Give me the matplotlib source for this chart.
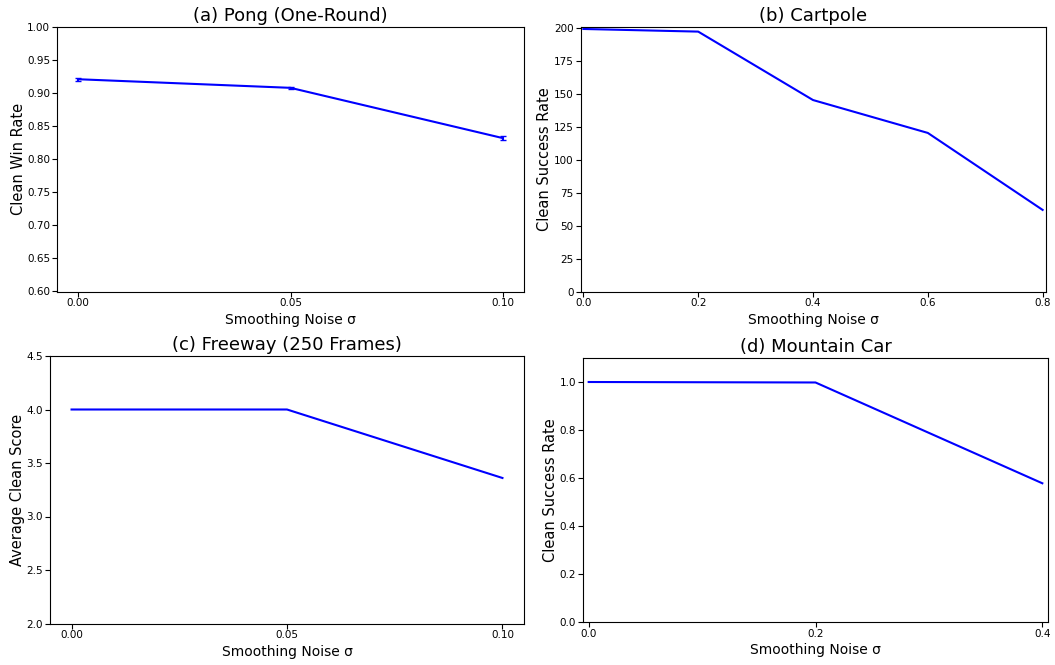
import matplotlib
matplotlib.use("Agg")
import matplotlib.pyplot as plt

# (a) Pong (One-Round)
pong_sigma = [0.00, 0.05, 0.10]
pong_win = [0.921, 0.908, 0.832]
pong_err = [0.002, 0.002, 0.003]

# (b) Cartpole
cart_sigma = [0.0, 0.2, 0.4, 0.6, 0.8]
cart_success = [199.5, 197.5, 145.5, 120.5, 62.0]

# (c) Freeway (250 Frames)
free_sigma = [0.00, 0.05, 0.10]
free_score = [4.0, 4.0, 3.36]

# (d) Mountain Car
mc_sigma = [0.0, 0.2, 0.4]
mc_success = [1.0, 0.998, 0.578]

W, H = 1055, 665
fig = plt.figure(figsize=(W / 100, H / 100), dpi=100)


def box(l, t, r, b):
    return [l / W, 1 - b / H, (r - l) / W, (b - t) / H]


ax_a = fig.add_axes(box(57, 27, 524, 291.5))
ax_b = fig.add_axes(box(580.5, 27, 1045.5, 291.5))
ax_c = fig.add_axes(box(50, 356, 524, 623.5))
ax_d = fig.add_axes(box(583, 358, 1048, 622))

ax_a.errorbar(pong_sigma, pong_win, yerr=pong_err, color="blue", capsize=2, linewidth=1.5)
ax_a.set_ylim(0.6, 1.0)
ax_a.set_xticks([0.00, 0.05, 0.10])
ax_a.set_xticklabels(["0.00", "0.05", "0.10"])
ax_a.set_ylabel("Clean Win Rate", fontsize=10.5, labelpad=1)
ax_a.set_title("(a) Pong (One-Round)", fontsize=13, pad=4)

ax_b.plot(cart_sigma, cart_success, color="blue", linewidth=1.5)
ax_b.set_xlim(-0.005, 0.805)
ax_b.set_ylim(0, 201)
ax_b.set_xticks([0.0, 0.2, 0.4, 0.6, 0.8])
ax_b.set_ylabel("Clean Success Rate", fontsize=10.5, labelpad=1)
ax_b.set_title("(b) Cartpole", fontsize=13, pad=4)

ax_c.plot(free_sigma, free_score, color="blue", linewidth=1.5)
ax_c.set_ylim(2.0, 4.5)
ax_c.set_xticks([0.00, 0.05, 0.10])
ax_c.set_xticklabels(["0.00", "0.05", "0.10"])
ax_c.set_ylabel("Average Clean Score", fontsize=10.5, labelpad=1)
ax_c.set_title("(c) Freeway (250 Frames)", fontsize=13, pad=4)

ax_d.plot(mc_sigma, mc_success, color="blue", linewidth=1.5)
ax_d.set_xlim(-0.005, 0.405)
ax_d.set_ylim(0, 1.1)
ax_d.set_xticks([0.0, 0.2, 0.4])
ax_d.set_ylabel("Clean Success Rate", fontsize=10.5, labelpad=1)
ax_d.set_title("(d) Mountain Car", fontsize=13, pad=4)

for ax in (ax_a, ax_b, ax_c, ax_d):
    ax.set_xlabel("Smoothing Noise σ", fontsize=10, labelpad=3)
    ax.tick_params(labelsize=7.5, pad=1.5)

fig.savefig("out.png", dpi=100)
